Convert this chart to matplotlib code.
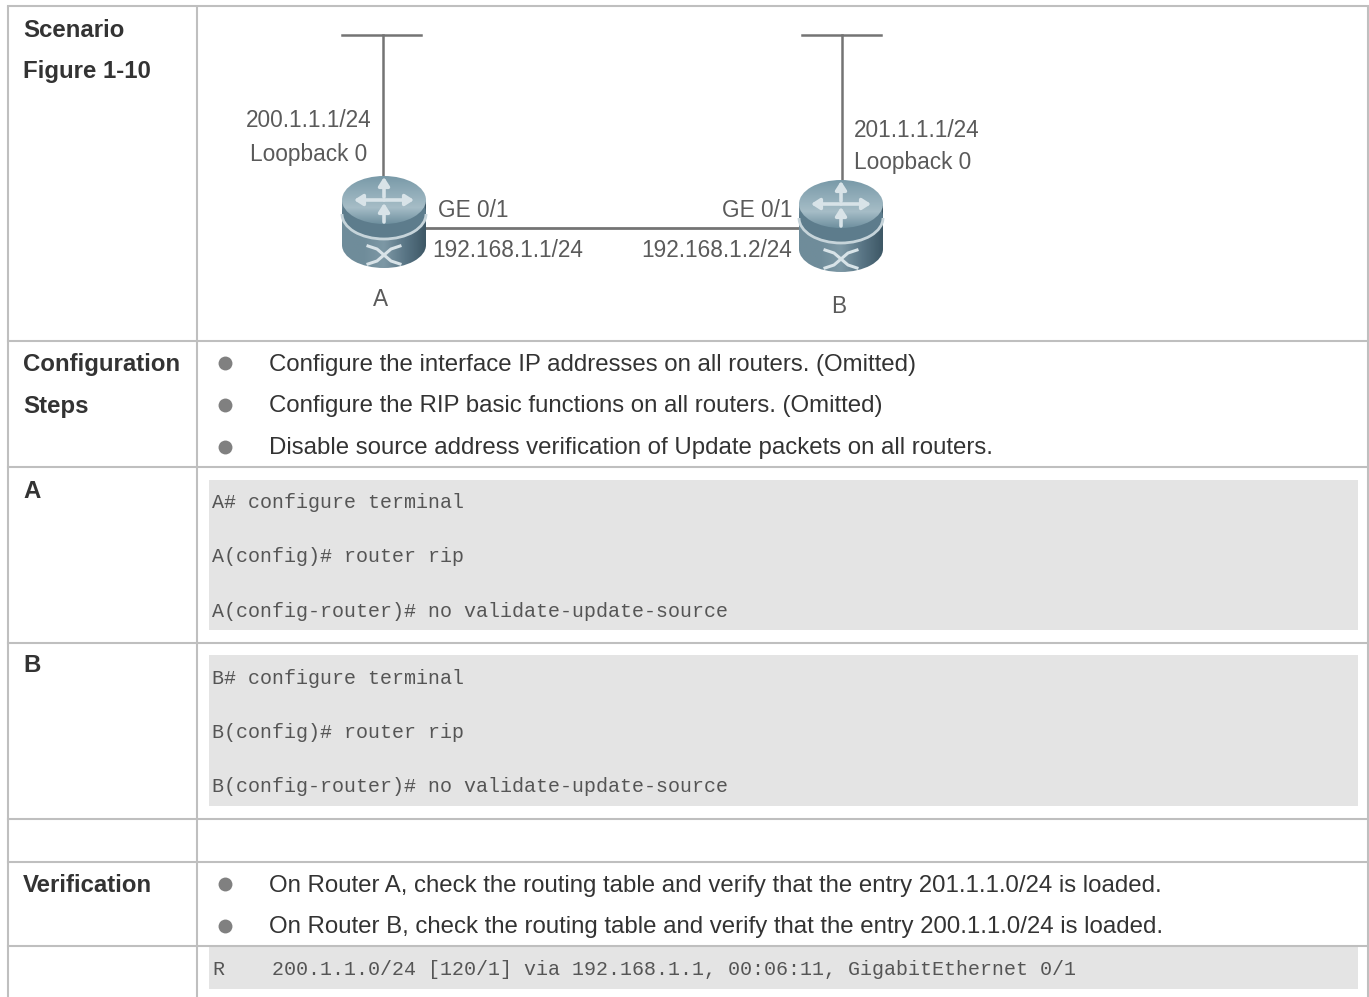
import matplotlib
matplotlib.use('Agg')
import matplotlib.pyplot as plt
import numpy as np
from matplotlib.colors import to_rgb
from matplotlib.patches import Arc, Ellipse, Rectangle

# table layout, in pixels of the page
row_lines = [6, 341, 467, 643, 819, 862, 946]
col_lines = [8, 197, 1368]
code_blocks = [(480, 630), (655, 806), (947, 989)]

left_labels = ['Scenario', 'Figure 1-10', 'Configuration', 'Steps', 'A', 'B', 'Verification']
left_ys = [37, 78, 371, 413, 498, 672, 892]

bullets = ['Configure the interface IP addresses on all routers. (Omitted)',
           'Configure the RIP basic functions on all routers. (Omitted)',
           'Disable source address verification of Update packets on all routers.',
           'On Router A, check the routing table and verify that the entry 201.1.1.0/24 is loaded.',
           'On Router B, check the routing table and verify that the entry 200.1.1.0/24 is loaded.']
bullet_ys = [371, 412, 454, 892, 933]
dot_ys = [363, 405, 447, 884, 926]

code_lines = ['A# configure terminal', 'A(config)# router rip', 'A(config-router)# no validate-update-source',
              'B# configure terminal', 'B(config)# router rip', 'B(config-router)# no validate-update-source']
code_ys = [508, 562, 617, 684, 738, 792]
route_cols = ['R', '200.1.1.0/24 [120/1] via 192.168.1.1, 00:06:11, GigabitEthernet 0/1']
route_xs = [212, 272]
route_y = 975

diagram_labels = ['200.1.1.1/24', 'Loopback 0', 'GE 0/1', '192.168.1.1/24', 'A',
                  '201.1.1.1/24', 'Loopback 0', 'GE 0/1', '192.168.1.2/24', 'B']
diagram_xs = [246, 250, 438, 432, 381, 854, 854, 792, 792, 839]
diagram_ys = [127, 161, 217, 257, 306, 137, 169, 217, 257, 313]
diagram_has = ['left', 'left', 'left', 'left', 'center', 'left', 'left', 'right', 'right', 'center']

routers = [(384, 176), (841, 180)]
bars = [(342, 421), (802, 881)]
stems = [383, 842]

fig = plt.figure(figsize=(13.69, 9.97), dpi=100)
ax = fig.add_axes([0, 0, 1, 1])
ax.set_xlim(0, 1369)
ax.set_ylim(997, 0)
ax.axis('off')

TEXT = '#333333'
LINE = '#bfbfbf'
SANS = 'Liberation Sans'
MONO = 'Liberation Mono'


def gradient(patch, stops, x0, x1, y0, y1, vertical=False, z=3):
    # gradient image clipped to a patch
    ax.add_patch(patch)
    n = 64
    rgb = np.array([to_rgb(c) for c in stops])
    pos = np.linspace(0, 1, len(stops))
    t = np.linspace(0, 1, n)
    cols = np.stack([np.interp(t, pos, rgb[:, i]) for i in range(3)], axis=1)
    img = cols[:, None, :] if vertical else cols[None, :, :]
    im = ax.imshow(img, extent=(x0, x1, y1, y0), aspect='auto', zorder=z)
    im.set_clip_path(patch)


def arrow(x0, y0, x1, y1, z=6):
    ax.annotate('', xy=(x1, y1), xytext=(x0, y0), zorder=z,
                arrowprops=dict(arrowstyle='-|>,head_length=0.5,head_width=0.32',
                                color='#d8e3e8', lw=2.6, shrinkA=0, shrinkB=0))


def draw_router(cx, top):
    rx = 42
    ry = 24
    c_top = top + 24
    c_bot = top + 69
    body_stops = ['#6f8c9a', '#6f8c9a', '#7d98a5', '#5a7686', '#3e5866']
    # lower body: a rectangle and the bottom ellipse
    gradient(Rectangle((cx - rx, c_top), 2 * rx, c_bot - c_top, fc='none', ec='none'),
             body_stops, cx - rx, cx + rx, top, top + 92, z=3)
    gradient(Ellipse((cx, c_bot), 2 * rx, 46, fc='none', ec='none'),
             body_stops, cx - rx, cx + rx, top, top + 92, z=3)
    # light ring between the two layers, dark band above it
    ax.add_patch(Ellipse((cx, c_top + 13), 2 * rx, 2 * ry + 2, fc='#5d7c8c', ec='none', zorder=4))
    ax.add_patch(Arc((cx, c_top + 14), 2 * rx, 2 * ry + 2, theta1=0, theta2=180, color='#c6d4da', lw=2, zorder=4.1))
    # upper disc
    gradient(Ellipse((cx, c_top), 2 * rx, 2 * ry, fc='none', ec='none'), ['#7899a8', '#8fabb7', '#a6bdc7', '#6f909f'],
             cx - rx, cx + rx, top, top + 2 * ry, vertical=True, z=5)
    # arrows on top
    arrow(cx, c_top, cx - 30, c_top)
    arrow(cx, c_top, cx + 30, c_top)
    arrow(cx, c_top - 3, cx, top + 1)
    arrow(cx, c_top + 22, cx, c_top + 3)
    # crossed arrows on the front
    xs = np.array([-16, -7, 7, 16])
    for sign in [-1, 1]:
        ax.plot(cx + xs, top + 79 + sign * np.array([9, 6, -6, -9]), color='#d8e3e8', lw=2.2, zorder=6)


# table
for y0, y1 in code_blocks:
    ax.add_patch(Rectangle((209, y0), 1358 - 209, y1 - y0, fc='#e4e4e4', ec='none', zorder=1))
for y in row_lines:
    ax.plot([col_lines[0], col_lines[-1]], [y, y], color=LINE, lw=1.5, zorder=2, solid_capstyle='projecting')
for x in col_lines:
    ax.plot([x, x], [row_lines[0], 997], color=LINE, lw=1.5, zorder=2, solid_capstyle='butt')

for s, y in zip(left_labels, left_ys):
    ax.text(23, y, s, family=SANS, weight='bold', fontsize=17.3, color=TEXT, va='baseline', ha='left')

for s, y, dy in zip(bullets, bullet_ys, dot_ys):
    ax.plot([225], [dy], 'o', color='#808080', ms=10, mec='none', zorder=3)
    ax.text(269, y, s, family=SANS, fontsize=17.3, color=TEXT, va='baseline', ha='left')

for s, y in zip(code_lines, code_ys):
    ax.text(212, y, s, family=MONO, fontsize=14.4, color='#555555', va='baseline', ha='left')
for s, x in zip(route_cols, route_xs):
    ax.text(x, route_y, s, family=MONO, fontsize=14.4, color='#555555', va='baseline', ha='left')

# network diagram
gray = '#747474'
for (x0, x1), x in zip(bars, stems):
    ax.plot([x0, x1], [35, 35], color=gray, lw=1.8, zorder=2)
    ax.plot([x, x], [35, 182], color=gray, lw=1.8, zorder=2)
ax.plot([stems[0], stems[1]], [228, 228], color=gray, lw=2, zorder=2)
for cx, top in routers:
    draw_router(cx, top)

for s, x, y, ha in zip(diagram_labels, diagram_xs, diagram_ys, diagram_has):
    ax.text(x, y, s, family=SANS, fontsize=16.3, color='#5a5a5a', va='baseline', ha=ha)

ax.set_xlim(0, 1369)
ax.set_ylim(997, 0)
fig.savefig('out.png', dpi=100, facecolor='white')
